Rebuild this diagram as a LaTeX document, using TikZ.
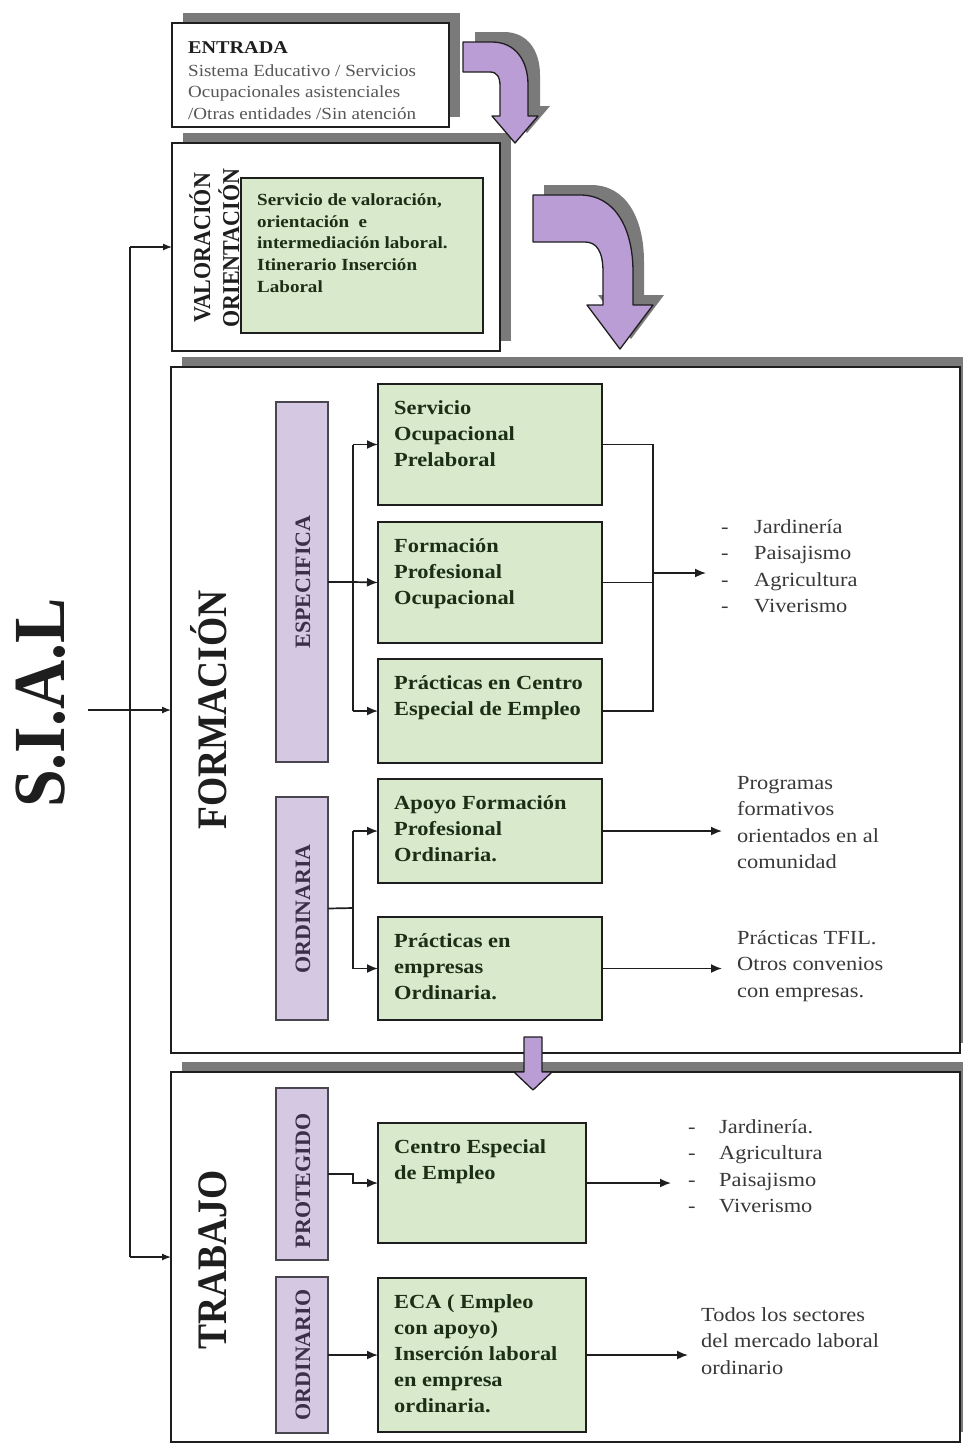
\documentclass[tikz,border=0pt]{standalone}
\usepackage{fontspec}
\usepackage{graphicx}
\setmainfont{Liberation Serif}[FakeStretch=1.12]
\newfontfamily\labelfont{Liberation Serif}
\usetikzlibrary{arrows.meta,backgrounds}

\definecolor{boxgreen}{HTML}{D8EACB}
\definecolor{textgreen}{HTML}{1C2E16}
\definecolor{barlav}{HTML}{D4C8E2}
\definecolor{bardark}{HTML}{4A4650}
\definecolor{arrowlav}{HTML}{BA9DD4}
\definecolor{shadowgray}{HTML}{7A7A7A}
\definecolor{inkdark}{HTML}{1E1E1E}
\definecolor{sidegray}{HTML}{383838}
\definecolor{labelpurple}{HTML}{3A3048}

\newcommand\leadstrut{\rule{0pt}{16pt}}

\begin{document}
\begin{tikzpicture}[x=1pt, y=-1pt,
  panel/.style={draw=inkdark, line width=1.6pt, fill=white, inner sep=0pt, outer sep=0pt, anchor=north west},
  greenbox/.style={draw=inkdark, line width=1.7pt, fill=boxgreen, inner sep=0pt, outer sep=0pt, anchor=north west, minimum width=224pt},
  lavbar/.style={draw=bardark, line width=1.7pt, fill=barlav, inner sep=0pt, outer sep=0pt, anchor=north west, minimum width=52pt},
  boxtext/.style={anchor=north west, inner sep=0pt, align=left, text=textgreen, font=\fontsize{20}{26}\selectfont\bfseries},
  valtext/.style={anchor=north west, inner sep=0pt, align=left, text=textgreen, font=\fontsize{17}{21.8}\selectfont\bfseries},
  headtext/.style={anchor=north west, inner sep=0pt, align=left, text=inkdark, font=\fontsize{18}{21.5}\selectfont\bfseries},
  graytext/.style={anchor=north west, inner sep=0pt, align=left, text=sidegray!85, font=\fontsize{17}{21.5}\selectfont},
  sidetext/.style={anchor=north west, inner sep=0pt, align=left, text=sidegray, font=\fontsize{20}{26.5}\selectfont},
  biglabel/.style={rotate=90, anchor=base, inner sep=0pt, text=inkdark, font=\fontsize{37.5}{40}\selectfont\labelfont\bfseries},
  midlabel/.style={rotate=90, anchor=base, inner sep=0pt, text=inkdark, font=\fontsize{22}{24}\selectfont\labelfont\bfseries},
  barlabel/.style={rotate=90, anchor=base, inner sep=0pt, text=labelpurple, font=\fontsize{22}{24}\selectfont\labelfont\bfseries},
  link/.style={draw=inkdark, line width=1.7pt},
  thinlink/.style={draw=inkdark, line width=1.2pt},
  tip/.style={-{Latex[length=11pt,width=9pt]}},
  smalltip/.style={-{Latex[length=9pt,width=7pt]}},
  blockarrow/.style={fill=arrowlav, draw=inkdark, line width=1.3pt, line join=round},
  bendsmall/.style={insert path={(463,42) -- (492,42) .. controls (515,42) and (528,60) .. (528,85) -- (528,116) -- (538,116) -- (515,143) -- (492,116) -- (500,116) -- (500,86) .. controls (500,77) and (497,72) .. (490,72) -- (463,72) -- cycle}},
  bendlarge/.style={insert path={(533,195) -- (580,195) .. controls (615,195) and (633,228) .. (633,272) -- (633,305) -- (653,305) -- (620,349) -- (587,305) -- (603,305) -- (603,272) .. controls (603,252) and (597,242) .. (585,242) -- (533,242) -- cycle}}
]
\useasboundingbox (0,0) rectangle (962,1444);

% ---------- outer panels ----------
\node[panel, minimum width=277pt, minimum height=104pt] (entrada) at (172,23) {};
\node[panel, minimum width=328pt, minimum height=208pt] (valor) at (172,143) {};
\node[panel, minimum width=789pt, minimum height=686pt] (form) at (171,367) {};
\node[panel, minimum width=789pt, minimum height=370pt] (trab) at (171,1072) {};

% drop shadows, offset up and to the right
\begin{scope}[on background layer]
  \foreach \p in {entrada,valor,form,trab}
    \fill[shadowgray] ([shift={(11,-10)}]\p.south west) rectangle ([shift={(11,-10)}]\p.north east);
\end{scope}

% ---------- curved block arrows ----------
\fill[shadowgray, shift={(12,-10)}, bendsmall];
\path[blockarrow, bendsmall];
\fill[shadowgray, shift={(11,-10)}, bendlarge];
\path[blockarrow, bendlarge];

% ---------- entry ----------
\node[headtext] (entT) at (188,37) {\leadstrut ENTRADA};
\node[graytext] (entB) at (188,60) {\leadstrut Sistema Educativo / Servicios\\Ocupacionales asistenciales\\/Otras entidades /Sin atención};

% ---------- assessment ----------
\node[greenbox, minimum width=242pt, minimum height=155pt] (gv) at (241,178) {};
\node[valtext] (gvT) at (257,189) {\leadstrut Servicio de valoración,\\orientación\ \ e\\intermediación laboral.\\Itinerario Inserción\\Laboral};
\node[midlabel] (valL) at (210,248) {\scalebox{1}[1.1]{VALORACIÓN}};
\node[midlabel] (oriL) at (239,248) {\scalebox{1}[1.1]{ORIENTACIÓN}};

% ---------- training ----------
\node[biglabel] (formL) at (226,710) {\scalebox{1}[1.12]{FORMACIÓN}};
\node[lavbar, minimum height=360pt] (esp) at (276,402) {};
\node[lavbar, minimum height=223pt] (ordA) at (276,797) {};
\node[barlabel] (espL) at (310,582) {ESPECIFICA};
\node[barlabel] (ordAL) at (310,909) {ORDINARIA};

\node[greenbox, minimum height=121pt] (g1) at (378,384) {};
\node[greenbox, minimum height=121pt] (g2) at (378,522) {};
\node[greenbox, minimum height=104pt] (g3) at (378,659) {};
\node[greenbox, minimum height=104pt] (g4) at (378,779) {};
\node[greenbox, minimum height=103pt] (g5) at (378,917) {};
\node[boxtext] (g1T) at (394,398) {\leadstrut Servicio\\Ocupacional\\Prelaboral};
\node[boxtext] (g2T) at (394,536) {\leadstrut Formación\\Profesional\\Ocupacional};
\node[boxtext] (g3T) at (394,673) {\leadstrut Prácticas en Centro\\Especial de Empleo};
\node[boxtext] (g4T) at (394,793) {\leadstrut Apoyo Formación\\Profesional\\Ordinaria.};
\node[boxtext] (g5T) at (394,931) {\leadstrut Prácticas en\\empresas\\Ordinaria.};

\node[sidetext] (dash1) at (721,517) {\leadstrut -\\-\\-\\-};
\node[sidetext] (list1) at (754,517) {\leadstrut Jardinería\\Paisajismo\\Agricultura\\Viverismo};
\node[sidetext] (prog) at (737,773) {\leadstrut Programas\\formativos\\orientados en al\\comunidad};
\node[sidetext] (tfil) at (737,928) {\leadstrut Prácticas TFIL.\\Otros convenios\\con empresas.};

% ---------- work ----------
\node[biglabel] (trabL) at (226,1260) {\scalebox{1}[1.12]{TRABAJO}};
\node[lavbar, minimum height=172pt] (prot) at (276,1088) {};
\node[lavbar, minimum height=156pt] (ordO) at (276,1277) {};
\node[barlabel] (protL) at (310,1181) {PROTEGIDO};
\node[barlabel] (ordOL) at (310,1355) {ORDINARIO};

\node[greenbox, minimum width=208pt, minimum height=120pt] (g6) at (378,1123) {};
\node[greenbox, minimum width=208pt, minimum height=154pt] (g7) at (378,1278) {};
\node[boxtext] (g6T) at (394,1137) {\leadstrut Centro Especial\\de Empleo};
\node[boxtext] (g7T) at (394,1292) {\leadstrut ECA ( Empleo\\con apoyo)\\Inserción laboral\\en empresa\\ordinaria.};

\node[sidetext] (dash2) at (688,1117) {\leadstrut -\\-\\-\\-};
\node[sidetext] (list2) at (719,1117) {\leadstrut Jardinería.\\Agricultura\\Paisajismo\\Viverismo};
\node[sidetext] (todos) at (701,1305) {\leadstrut Todos los sectores\\del mercado laboral\\ordinario};

% transfer arrow from training to work
\path[blockarrow] (524,1037) -- (542,1037) -- (542,1072) -- (552,1072) -- (533,1090) -- (514,1072) -- (524,1072) -- cycle;

% ---------- S.I.A.L trunk ----------
\node[biglabel, font=\fontsize{68}{70}\selectfont\labelfont\bfseries] (sial) at (64,703) {\scalebox{1}[1.08]{S.I.A.L}};
\coordinate (trunk) at (130,700);
\draw[thinlink] (trunk |- valor.west) -- (trunk |- trab.west);
\draw[thinlink, smalltip] (trunk |- valor.west) -- (valor.west);
\draw[thinlink, smalltip] (trunk |- trab.west) -- (trab.west);
\draw[thinlink, smalltip, shorten <=23pt] (sial.south |- form.west) -- (form.west);

% ---------- connectors: specific training ----------
\coordinate (jE) at (353,582);
\draw[link] (esp.east) -- (jE);
\draw[link] (jE |- g1.west) -- (jE |- g3.west);
\draw[link, tip] (jE |- g1.west) -- (g1.west);
\draw[link, tip] (jE) -- (g2.west);
\draw[link, tip] (jE |- g3.west) -- (g3.west);
\coordinate (cE) at (653,573);
\draw[link] (g1.east) -- (g1.east -| cE) -- (g3.east -| cE) -- (g3.east);
\draw[link] (g2.east) -- (g2.east -| cE);
\draw[link, tip, shorten >=15pt] (cE) -- (cE -| dash1.west);

% ---------- connectors: ordinary training ----------
\coordinate (jO) at (353,908);
\draw[link] (ordA.east) -- (jO);
\draw[link] (jO |- g4.west) -- (jO |- g5.west);
\draw[link, tip] (jO |- g4.west) -- (g4.west);
\draw[link, tip] (jO |- g5.west) -- (g5.west);
\draw[link, tip, shorten >=15pt] (g4.east) -- (g4.east -| prog.west);
\draw[link, tip, shorten >=15pt] (g5.east) -- (g5.east -| tfil.west);

% ---------- connectors: work ----------
\draw[link, tip] (prot.east) -- ++(25,0) |- (g6.west);
\draw[link, tip, shorten >=17pt] (g6.east) -- (g6.east -| dash2.west);
\draw[link, tip] (ordO.east) -- (g7.west);
\draw[link, tip, shorten >=13pt] (g7.east) -- (g7.east -| todos.west);
\end{tikzpicture}
\end{document}
